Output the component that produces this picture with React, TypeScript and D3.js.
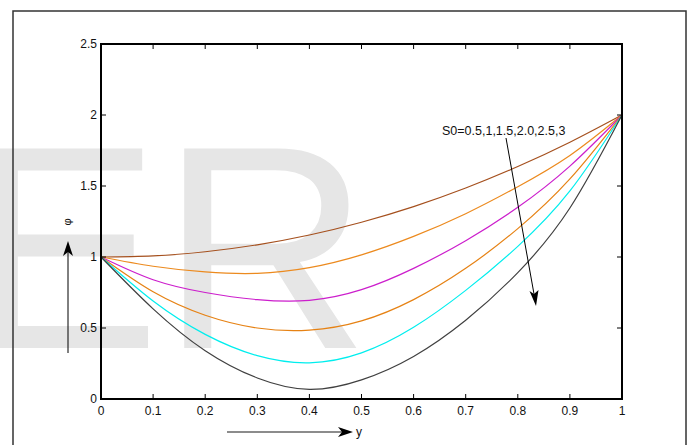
import React from "react";
import * as d3 from "d3";

const xs = [0, 0.1, 0.2, 0.3, 0.4, 0.5, 0.6, 0.7, 0.8, 0.9, 1];
const brown = [1, 1.008, 1.037, 1.086, 1.155, 1.245, 1.355, 1.486, 1.637, 1.808, 2];
const orange1 = [1, 0.935, 0.895, 0.885, 0.925, 1.015, 1.145, 1.305, 1.495, 1.715, 2];
const magenta = [1, 0.84, 0.75, 0.7, 0.695, 0.77, 0.92, 1.115, 1.35, 1.64, 2];
const orange2 = [1, 0.755, 0.59, 0.5, 0.485, 0.55, 0.7, 0.92, 1.2, 1.55, 2];
const cyan = [1, 0.69, 0.455, 0.305, 0.255, 0.325, 0.505, 0.765, 1.075, 1.465, 2];
const gray = [1, 0.635, 0.34, 0.148, 0.068, 0.135, 0.3, 0.555, 0.89, 1.345, 2];

const series = [
  { values: brown, color: "#a5501e" },
  { values: orange1, color: "#ec8a1e" },
  { values: magenta, color: "#cc1ecc" },
  { values: orange2, color: "#e68214" },
  { values: cyan, color: "#00eeee" },
  { values: gray, color: "#404040" },
];

const xTicks = [0, 0.1, 0.2, 0.3, 0.4, 0.5, 0.6, 0.7, 0.8, 0.9, 1];
const xTickLabels = ["0", "0.1", "0.2", "0.3", "0.4", "0.5", "0.6", "0.7", "0.8", "0.9", "1"];
const yTicks = [0, 0.5, 1, 1.5, 2, 2.5];
const yTickLabels = ["0", "0.5", "1", "1.5", "2", "2.5"];

const annotation = "S0=0.5,1,1.5,2.0,2.5,3";

export default function App() {
  const W = 691, H = 445;
  const left = 101, right = 622, top = 44, bottom = 399;
  const x = d3.scaleLinear().domain([0, 1]).range([left, right]);
  const y = d3.scaleLinear().domain([0, 2.5]).range([bottom, top]);
  const line = d3
    .line<number>()
    .x((_, i) => x(xs[i]))
    .y((v) => y(v))
    .curve(d3.curveNatural);
  const font = "'Liberation Sans', Arial, sans-serif";
  const tl = 5;

  return (
    <svg width={W} height={H} style={{ position: "fixed", left: 0, top: 0, background: "#fff" }}>
      <rect x={0} y={0} width={W} height={H} fill="#fff" />
      {/* watermark */}
      <text x={-33} y={348} fontFamily={font} fontSize={290} fill="#e6e6e6">ER</text>
      {/* outer frame */}
      <rect x={13} y={11} width={673} height={460} fill="none" stroke="#333" strokeWidth={1.5} />
      {/* curves */}
      {series.map((s, i) => (
        <path key={i} d={line(s.values) || ""} fill="none" stroke={s.color} strokeWidth={1.2} />
      ))}
      {/* axes box */}
      <rect x={left} y={top} width={right - left} height={bottom - top} fill="none" stroke="#000" strokeWidth={2} />
      {xTicks.map((t, i) => (
        <g key={"xt" + i}>
          <line x1={x(t)} x2={x(t)} y1={bottom} y2={bottom - tl} stroke="#000" strokeWidth={1} />
          <line x1={x(t)} x2={x(t)} y1={top} y2={top + tl} stroke="#000" strokeWidth={1} />
          <text x={x(t)} y={415} textAnchor="middle" fontFamily={font} fontSize={12} fill="#111">
            {xTickLabels[i]}
          </text>
        </g>
      ))}
      {yTicks.map((t, i) => (
        <g key={"yt" + i}>
          <line x1={left} x2={left + tl} y1={y(t)} y2={y(t)} stroke="#000" strokeWidth={1} />
          <line x1={right} x2={right - tl} y1={y(t)} y2={y(t)} stroke="#000" strokeWidth={1} />
          <text x={97} y={y(t) + 4.3} textAnchor="end" fontFamily={font} fontSize={12} fill="#111">
            {yTickLabels[i]}
          </text>
        </g>
      ))}
      {/* annotation */}
      <text x={442} y={135} fontFamily={font} fontSize={12.5} fill="#111">{annotation}</text>
      <line x1={506} y1={138} x2={534} y2={294} stroke="#000" strokeWidth={1} />
      <path d="M536,306 L529.5,291 L534,294 L538.5,290 Z" fill="#000" />
      {/* y-axis label arrow */}
      <line x1={68} y1={353} x2={68} y2={252} stroke="#000" strokeWidth={1} />
      <path d="M68,241 L63,256 L68,252 L73,256 Z" fill="#000" />
      <text
        x={0}
        y={0}
        transform="translate(71,222) rotate(-90)"
        textAnchor="middle"
        fontFamily={font}
        fontSize={11}
        fill="#111"
      >
        φ
      </text>
      {/* x-axis label arrow */}
      <line x1={227} y1={432} x2={342} y2={432} stroke="#666" strokeWidth={1.5} />
      <path d="M353,432 L338,427 L342,432 L338,437 Z" fill="#000" />
      <text x={356} y={436} fontFamily={font} fontSize={12} fill="#111">y</text>
    </svg>
  );
}
